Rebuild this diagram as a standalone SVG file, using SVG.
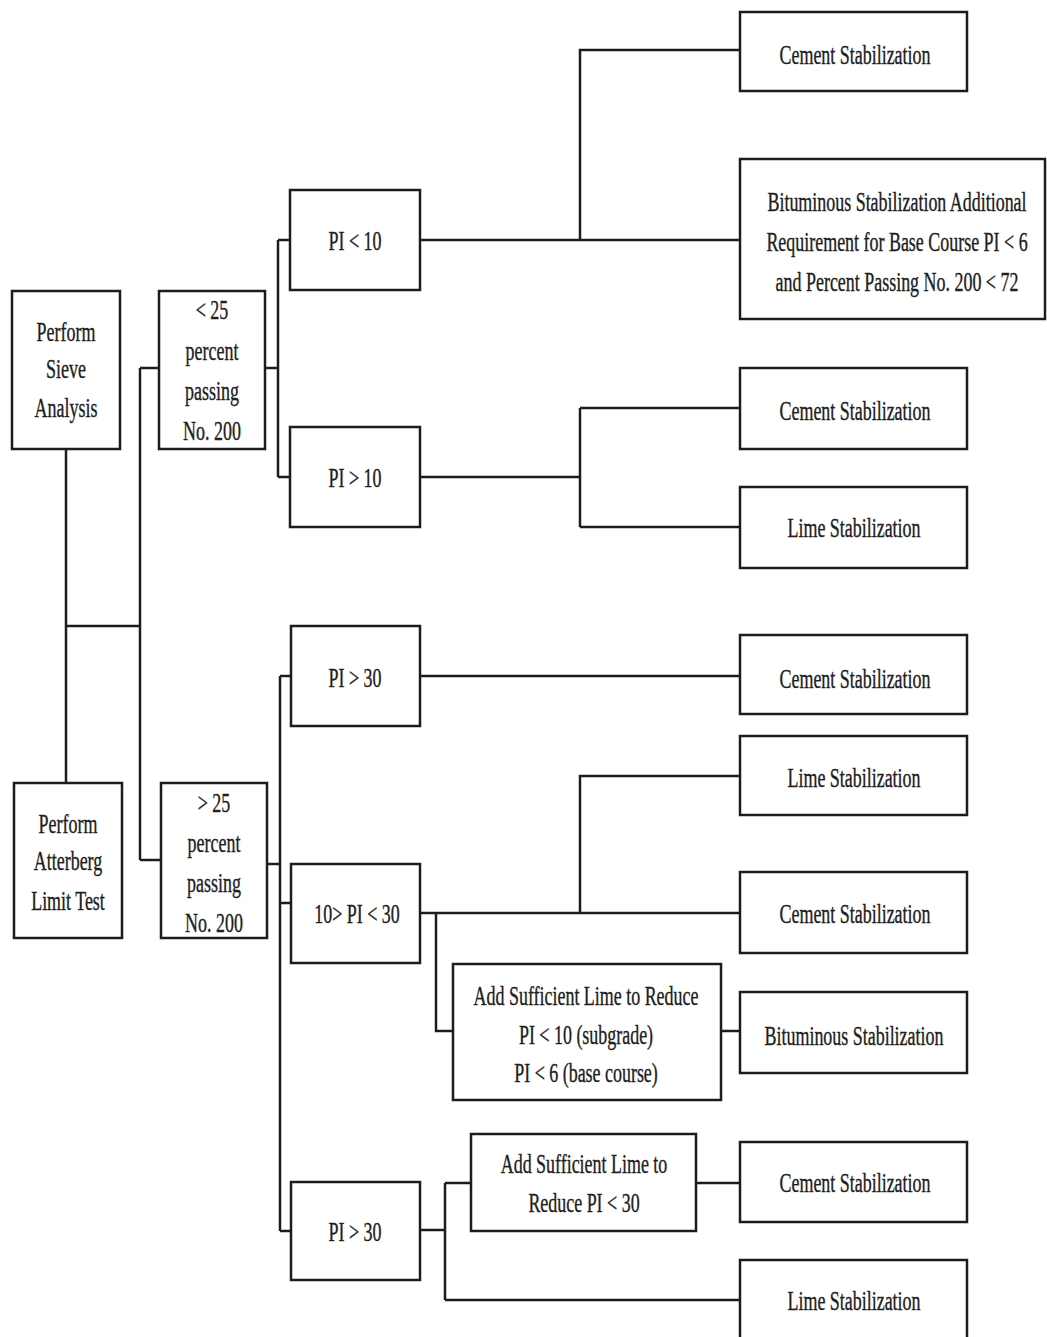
<svg xmlns="http://www.w3.org/2000/svg" width="1047" height="1337" viewBox="0 0 1047 1337">
  <style>
    .box { fill: #ffffff; stroke: #1c1c1c; stroke-width: 2.5; }
    .wire { fill: none; stroke: #1c1c1c; stroke-width: 2.5; }
    text { font-family: "Liberation Serif", "Times New Roman", serif; font-size: 27px; fill: #202020; stroke: #202020; stroke-width: 0.35; text-anchor: middle; }
  </style>
  <rect width="1047" height="1337" fill="#ffffff"/>

  <!-- connectors -->
  <g id="connectors" class="wire">
    <!-- tests to split -->
    <path d="M66,449 V783 M66,626 H140 M140,368 V860 M140,368 H159 M140,860 H161"/>
    <!-- < 25 percent branch -->
    <path d="M265,368 H278 M278,240 V477 M278,240 H290 M278,477 H290"/>
    <!-- > 25 percent branch -->
    <path d="M267,864 H280 M280,676 V1231 M280,676 H291 M280,903 H291 M280,1231 H291"/>
    <!-- PI < 10 -->
    <path d="M420,240 H740 M580,240 V50 H740"/>
    <!-- PI > 10 -->
    <path d="M420,477 H580 M580,408 V527 M580,408 H740 M580,527 H740"/>
    <!-- PI > 30 (upper) -->
    <path d="M420,676 H740"/>
    <!-- 10 > PI < 30 -->
    <path d="M420,913 H740 M580,913 V776 H740 M436,913 V1031 H453 M721,1031 H740"/>
    <!-- PI > 30 (lower) -->
    <path d="M420,1230 H445 M445,1183 V1300 M445,1183 H471 M445,1300 H740 M696,1183 H740"/>
  </g>

  <!-- nodes: labels are set in a condensed serif (horizontal scale 0.665) -->
  <g id="sieve">
    <rect class="box" x="12" y="291" width="108" height="158"/>
    <text transform="translate(66,341) scale(0.665,1)">Perform</text>
    <text transform="translate(66,378) scale(0.665,1)">Sieve</text>
    <text transform="translate(66,417) scale(0.665,1)">Analysis</text>
  </g>
  <g id="atterberg">
    <rect class="box" x="14" y="783" width="108" height="155"/>
    <text transform="translate(68,833) scale(0.665,1)">Perform</text>
    <text transform="translate(68,870) scale(0.665,1)">Atterberg</text>
    <text transform="translate(68,910) scale(0.665,1)">Limit Test</text>
  </g>
  <g id="lt25">
    <rect class="box" x="159" y="291" width="106" height="158"/>
    <text transform="translate(212,319) scale(0.665,1)">&lt; 25</text>
    <text transform="translate(212,360) scale(0.665,1)">percent</text>
    <text transform="translate(212,400) scale(0.665,1)">passing</text>
    <text transform="translate(212,440) scale(0.665,1)">No. 200</text>
  </g>
  <g id="gt25">
    <rect class="box" x="161" y="783" width="106" height="155"/>
    <text transform="translate(214,812) scale(0.665,1)">&gt; 25</text>
    <text transform="translate(214,852) scale(0.665,1)">percent</text>
    <text transform="translate(214,892) scale(0.665,1)">passing</text>
    <text transform="translate(214,932) scale(0.665,1)">No. 200</text>
  </g>
  <g id="pi-lt10">
    <rect class="box" x="290" y="190" width="130" height="100"/>
    <text transform="translate(355,250) scale(0.665,1)">PI &lt; 10</text>
  </g>
  <g id="pi-gt10">
    <rect class="box" x="290" y="427" width="130" height="100"/>
    <text transform="translate(355,487) scale(0.665,1)">PI &gt; 10</text>
  </g>
  <g id="pi-gt30-upper">
    <rect class="box" x="291" y="626" width="129" height="100"/>
    <text transform="translate(355,687) scale(0.665,1)">PI &gt; 30</text>
  </g>
  <g id="pi-10-30">
    <rect class="box" x="291" y="864" width="129" height="99"/>
    <text transform="translate(357,923) scale(0.665,1)">10&gt; PI &lt; 30</text>
  </g>
  <g id="pi-gt30-lower">
    <rect class="box" x="291" y="1182" width="129" height="98"/>
    <text transform="translate(355,1241) scale(0.665,1)">PI &gt; 30</text>
  </g>
  <g id="lime-reduce-10-6">
    <rect class="box" x="453" y="964" width="268" height="136"/>
    <text transform="translate(586,1005) scale(0.665,1)">Add Sufficient Lime to Reduce</text>
    <text transform="translate(586,1044) scale(0.665,1)">PI &lt; 10 (subgrade)</text>
    <text transform="translate(586,1082) scale(0.665,1)">PI &lt; 6 (base course)</text>
  </g>
  <g id="lime-reduce-30">
    <rect class="box" x="471" y="1134" width="225" height="97"/>
    <text transform="translate(584,1173) scale(0.665,1)">Add Sufficient Lime to</text>
    <text transform="translate(584,1212) scale(0.665,1)">Reduce PI &lt; 30</text>
  </g>

  <g id="cement-1">
    <rect class="box" x="740" y="12" width="227" height="79"/>
    <text transform="translate(855,64) scale(0.665,1)">Cement Stabilization</text>
  </g>
  <g id="bituminous-base">
    <rect class="box" x="740" y="159" width="305" height="160"/>
    <text transform="translate(897,211) scale(0.665,1)">Bituminous Stabilization Additional</text>
    <text transform="translate(897,251) scale(0.665,1)">Requirement for Base Course PI &lt; 6</text>
    <text transform="translate(897,291) scale(0.665,1)">and Percent Passing No. 200 &lt; 72</text>
  </g>
  <g id="cement-2">
    <rect class="box" x="740" y="368" width="227" height="81"/>
    <text transform="translate(855,420) scale(0.665,1)">Cement Stabilization</text>
  </g>
  <g id="lime-1">
    <rect class="box" x="740" y="487" width="227" height="81"/>
    <text transform="translate(854,537) scale(0.665,1)">Lime Stabilization</text>
  </g>
  <g id="cement-3">
    <rect class="box" x="740" y="635" width="227" height="79"/>
    <text transform="translate(855,688) scale(0.665,1)">Cement Stabilization</text>
  </g>
  <g id="lime-2">
    <rect class="box" x="740" y="736" width="227" height="79"/>
    <text transform="translate(854,787) scale(0.665,1)">Lime Stabilization</text>
  </g>
  <g id="cement-4">
    <rect class="box" x="740" y="872" width="227" height="81"/>
    <text transform="translate(855,923) scale(0.665,1)">Cement Stabilization</text>
  </g>
  <g id="bituminous">
    <rect class="box" x="740" y="992" width="227" height="81"/>
    <text transform="translate(854,1045) scale(0.665,1)">Bituminous Stabilization</text>
  </g>
  <g id="cement-5">
    <rect class="box" x="740" y="1142" width="227" height="80"/>
    <text transform="translate(855,1192) scale(0.665,1)">Cement Stabilization</text>
  </g>
  <g id="lime-3">
    <rect class="box" x="740" y="1260" width="227" height="82"/>
    <text transform="translate(854,1310) scale(0.665,1)">Lime Stabilization</text>
  </g>
</svg>
